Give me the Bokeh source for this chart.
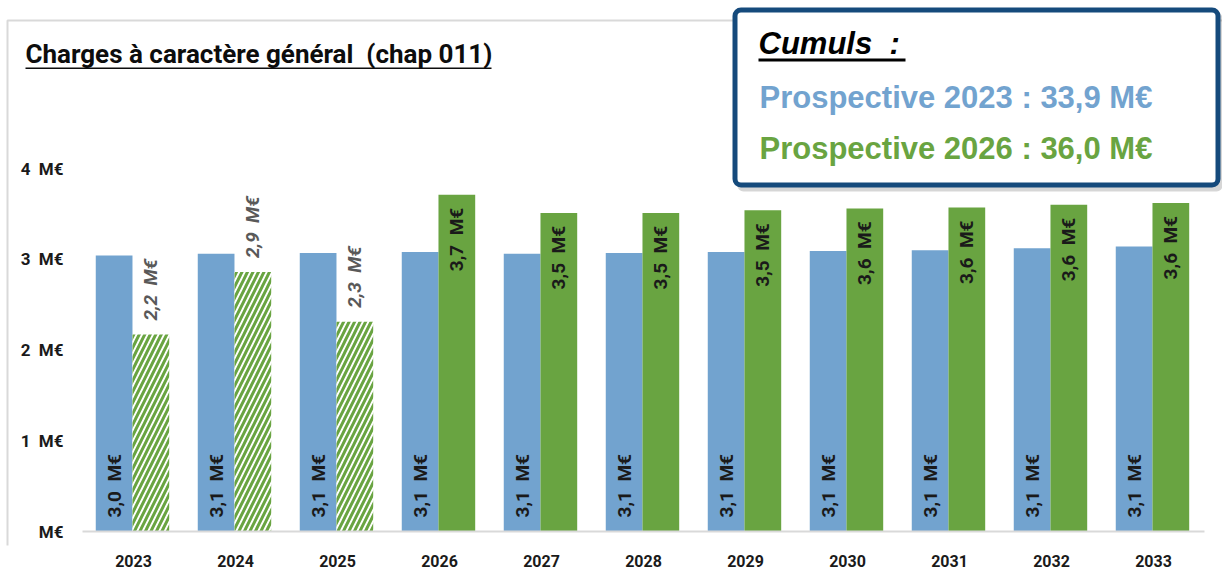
import math
from bokeh.plotting import figure
from bokeh.models import ColumnDataSource, Label, BoxAnnotation, Range1d, FixedTicker
from bokeh.transform import dodge
from bokeh.core.properties import value
from bokeh.embed import file_html
from bokeh.resources import INLINE

# ---------------- data ----------------
years = ["2023", "2024", "2025", "2026", "2027", "2028", "2029", "2030", "2031", "2032", "2033"]
prosp_2023 = [3.04, 3.06, 3.07, 3.08, 3.06, 3.07, 3.08, 3.09, 3.10, 3.12, 3.14]
prosp_2026 = [2.17, 2.86, 2.31, 3.71, 3.51, 3.51, 3.54, 3.56, 3.57, 3.60, 3.62]
hatched_years = ["2023", "2024", "2025"]
y_ticks = [0, 1, 2, 3, 4]
y_tick_labels = ["M€", "1\u00a0\u00a0M€", "2\u00a0\u00a0M€", "3\u00a0\u00a0M€", "4\u00a0\u00a0M€"]
title_text = "Charges à caractère général\u00a0\u00a0(chap 011)"

BLUE = "#72A3CF"
GREEN = "#69A441"
NAVY = "#154A7C"
NB = "\u00a0"


def fmt(v):
    return f"{v:.1f}".replace(".", ",") + NB + NB + "M€"


# ---------------- layout (pixels) ----------------
W, H = 1222, 579
CAT_PX = 102          # width of one category
LEFT_PX = 82          # left edge of first category
BASE_PX = 531         # y of the zero line
TOP4_PX = 168         # y of the 4 M€ tick
FRAME_BOTTOM = 545    # bottom of the plotting frame
n = len(years)
xs = list(range(n))
PPU = (BASE_PX - TOP4_PX) / 4.0

x_start = -0.5 - LEFT_PX / CAT_PX
x_end = x_start + W / CAT_PX
y_start = -(FRAME_BOTTOM - BASE_PX) / PPU
y_end = BASE_PX / PPU

p = figure(width=W, height=H, output_backend="svg", toolbar_location=None,
           x_range=Range1d(x_start, x_end), y_range=Range1d(y_start, y_end),
           min_border_left=0, min_border_right=0, min_border_top=0,
           min_border_bottom=H - FRAME_BOTTOM)
p.outline_line_color = None
p.xgrid.grid_line_color = None
p.ygrid.grid_line_color = None
p.yaxis.visible = False
p.background_fill_color = "white"
p.border_fill_color = "white"

LABEL_SHIFT = 10  # Label glyphs render lower than their anchor


def fy(py):
    return FRAME_BOTTOM - py


def sbox(l, r, t, b, **kw):
    kw.setdefault("line_alpha", 1)
    return BoxAnnotation(left=l, right=r, top=fy(t), bottom=fy(b),
                         left_units="screen", right_units="screen",
                         top_units="screen", bottom_units="screen", **kw)


def slabel(x, y, text, **kw):
    return Label(x=x, y=fy(y - LABEL_SHIFT), x_units="screen", y_units="screen",
                 text=text, text_baseline="alphabetic", text_align="left", **kw)


# panel border
p.add_layout(sbox(7, 1400, 20, 900, fill_alpha=0, line_color="#D9D9D9", line_width=2))

blue_src = ColumnDataSource(dict(x=xs, v=prosp_2023, lab=[fmt(v) for v in prosp_2023]))
hi = [i for i, y in enumerate(years) if y in hatched_years]
si = [i for i, y in enumerate(years) if y not in hatched_years]
hatch_src = ColumnDataSource(dict(x=hi, v=[prosp_2026[i] for i in hi],
                                  lab=[fmt(prosp_2026[i]) for i in hi]))
solid_src = ColumnDataSource(dict(x=si, v=[prosp_2026[i] for i in si],
                                  lab=[fmt(prosp_2026[i]) for i in si]))

BO, GO, BW = -0.19, 0.17, 0.36
p.vbar(x=dodge("x", BO), top="v", width=BW, source=blue_src,
       fill_color=BLUE, line_color=None)
p.vbar(x=dodge("x", GO), top="v", width=BW, source=solid_src,
       fill_color=GREEN, line_color=None)
p.vbar(x=dodge("x", GO), top="v", width=BW, source=hatch_src,
       fill_color="white", line_color=None, hatch_pattern="/",
       hatch_color=GREEN, hatch_scale=11, hatch_weight=3)

# zero line (x axis line) limited to the categories
p.segment(x0=[-0.5], x1=[n - 0.5], y0=[0], y1=[0], line_color="#D9D9D9", line_width=2)

LF = value("Roboto")
p.text(x=dodge("x", BO), y=0, text="lab", source=blue_src,
       angle=math.pi / 2, text_align="left", text_baseline="middle",
       y_offset=-14, text_font=LF, text_font_size="19px", text_font_style="bold",
       text_color="#1a1a1a")
p.text(x=dodge("x", GO), y="v", text="lab", source=solid_src,
       angle=math.pi / 2, text_align="right", text_baseline="middle",
       y_offset=13, text_font=LF, text_font_size="19px", text_font_style="bold",
       text_color="#1a1a1a")
p.text(x=dodge("x", GO), y="v", text="lab", source=hatch_src,
       angle=math.pi / 2, text_align="left", text_baseline="middle",
       y_offset=-14, text_font=LF, text_font_size="19px", text_font_style="bold italic",
       text_color="#595959")

# y tick labels (drawn through the y scale)
tick_src = ColumnDataSource(dict(x=[-0.5] * len(y_ticks), y=y_ticks, lab=y_tick_labels))
p.text(x="x", y="y", text="lab", source=tick_src, x_offset=-19,
       text_align="right", text_baseline="middle", text_font=LF,
       text_font_size="17px", text_font_style="bold", text_color="#1a1a1a")

# x axis (labels only)
p.xaxis.ticker = FixedTicker(ticks=xs)
p.xaxis.major_label_overrides = {i: y for i, y in zip(xs, years)}
p.xaxis.axis_line_color = None
p.xaxis.major_tick_line_color = None
p.xaxis.minor_tick_line_color = None
p.xaxis.major_label_text_font = "Roboto"
p.xaxis.major_label_text_font_style = "bold"
p.xaxis.major_label_text_font_size = "16px"
p.xaxis.major_label_text_color = "#1a1a1a"
p.xaxis.major_label_standoff = 3

# title with underline
p.add_layout(slabel(25, 63, title_text, text_font="Roboto", text_font_style="bold",
                    text_font_size="26px", text_color="#0d0d0d"))
p.add_layout(sbox(25, 491, 67, 68.5, fill_color="#0d0d0d", fill_alpha=1, line_color=None))

# cumuls box
p.add_layout(sbox(737, 1222, 12, 191, fill_color="#777777", fill_alpha=0.3,
                  line_color=None, border_radius=6))
p.add_layout(sbox(734.5, 1217.5, 9.5, 184.5, fill_color="white", fill_alpha=1,
                  line_color=NAVY, line_width=5, border_radius=6))
p.add_layout(slabel(758, 53, "Cumuls\u00a0\u00a0:", text_font="Liberation Sans",
                    text_font_style="bold italic", text_font_size="31px",
                    text_color="black"))
p.add_layout(sbox(758, 905, 58, 61, fill_color="black", fill_alpha=1, line_color=None))
tot23 = f"{sum(prosp_2023):.1f}".replace(".", ",")
tot26 = f"{sum(prosp_2026):.1f}".replace(".", ",")
p.add_layout(slabel(759, 107, f"Prospective 2023 : {tot23} M€", text_font="Liberation Sans",
                    text_font_style="bold", text_font_size="31px", text_color=BLUE))
p.add_layout(slabel(759, 158, f"Prospective 2026 : {tot26} M€", text_font="Liberation Sans",
                    text_font_style="bold", text_font_size="31px", text_color=GREEN))

open("out.html", "w").write(file_html(p, INLINE))
